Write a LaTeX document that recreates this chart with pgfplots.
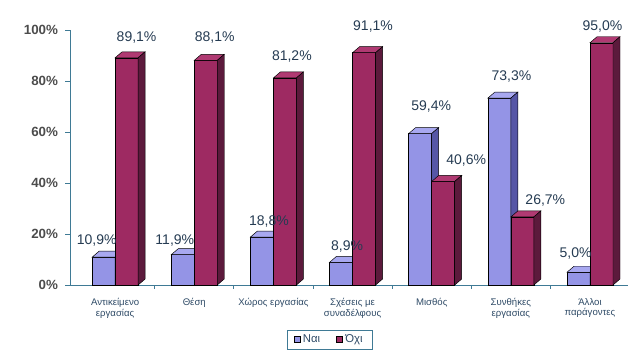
\documentclass[border=0pt]{standalone}
\usepackage{pgfplots}
\pgfplotsset{compat=1.18}
\usepackage{pgfplotstable}
\usepackage{fontspec}
\setmainfont{Liberation Sans}
\definecolor{nai}{HTML}{9494E6}
\definecolor{naitop}{HTML}{A8A8F0}
\definecolor{naiside}{HTML}{5656A6}
\definecolor{oxi}{HTML}{9E2A62}
\definecolor{oxitop}{HTML}{B03A72}
\definecolor{oxiside}{HTML}{5C1A3C}
\definecolor{axcol}{HTML}{3F7A95}
\definecolor{lblcol}{HTML}{2E4A66}
% 3D bar drawn at the data point (category centre, value); uses \val
\newcommand\drawbar[4]{%
  \pgfmathsetmacro\hh{\val*1.9125}%
  \filldraw[fill=#2, draw=black, line width=0.35pt] (#1pt,-\hh pt) rectangle ++(17.25pt,\hh pt);
  \filldraw[fill=#3, draw=black, line width=0.35pt] (#1pt,0pt) -- ++(17.25pt,0pt) -- ++(5.25pt,4.5pt) -- ++(-17.25pt,0pt) -- cycle;
  \filldraw[fill=#4, draw=black, line width=0.35pt] ([xshift=17.25pt]#1pt,0pt) -- ++(5.25pt,4.5pt) -- ++(0pt,-\hh pt) -- ++(-5.25pt,-4.5pt) -- cycle;
}
\pgfdeclareplotmark{naibar}{\drawbar{-17.25}{nai}{naitop}{naiside}}
\pgfdeclareplotmark{oxibar}{\drawbar{0}{oxi}{oxitop}{oxiside}}
\pgfplotstableread{
x nai ndx ndy oxi odx ody
0 10.9 -13.85 12.75 89.1 16.10 15.0
1 11.9 -14.60 10.50 88.1 15.35 17.25
2 18.8 -3.35 12.0 81.2 13.85 15.75
3 8.9 -4.10 12.0 91.1 15.35 20.0
4 59.4 -0.35 20.25 40.6 25.85 15.75
5 73.3 0.40 16.5 26.7 25.85 12.0
6 5.0 -10.85 14.25 95.0 9.35 12.0
}\data
\begin{document}
\begin{tikzpicture}
\begin{axis}[
  scale only axis, width=418.5pt, height=191.25pt,
  xmin=-0.57, xmax=6.48, ymin=0, ymax=100,
  axis lines=left, axis line style={draw=axcol, line width=0.6pt, -},
  ytick={0,20,...,100},
  yticklabel={\pgfmathprintnumber{\tick}\%},
  /pgf/number format/assume math mode=true,
  tick align=outside,
  major tick length=3.5pt,
  minor tick length=3pt,
  ytick style={draw=axcol, line width=0.6pt},
  xtick={0,...,6},
  minor xtick={0.5,1.5,...,6.5},
  major x tick style={draw=none},
  minor x tick style={draw=axcol, line width=0.6pt},
  xticklabels={Αντικείμενο\\εργασίας, Θέση, Χώρος εργασίας, Σχέσεις με\\συναδέλφους, Μισθός, Συνθήκες\\εργασίας, Άλλοι\\παράγοντες},
  xticklabel style={font=\fontsize{7.2}{8}\selectfont, align=center, text=lblcol, yshift=-3pt},
  yticklabel style={font=\fontsize{10}{12}\selectfont\bfseries, text=black!70, xshift=-2pt},
  legend style={at={(0.465,-0.175)}, anchor=north, legend columns=2, draw=axcol, font=\fontsize{8.5}{9}\selectfont, inner xsep=5pt, inner ysep=1.5pt, text=lblcol,
     /tikz/every even column/.append style={column sep=10pt}},
  clip=false,
  point meta=y,
  scatter/@pre marker code/.code={},
  scatter/@post marker code/.code={},
  every node near coord/.append style={font=\fontsize{10.5}{12}\selectfont, text=lblcol!80!black, anchor=center},
]
\addplot[only marks, scatter, mark=naibar,
  visualization depends on={\thisrow{nai} \as \val},
  legend image code/.code={\filldraw[fill=nai, draw=black, line width=0.35pt] (0cm,-0.08cm) rectangle (0.16cm,0.08cm);}]
  table[x=x, y=nai] {\data};
\addplot[only marks, scatter, mark=oxibar,
  visualization depends on={\thisrow{oxi} \as \val},
  legend image code/.code={\filldraw[fill=oxi, draw=black, line width=0.35pt] (0cm,-0.08cm) rectangle (0.16cm,0.08cm);}]
  table[x=x, y=oxi] {\data};
% value labels, drawn on top of all bars
\addplot[draw=none, mark=none, forget plot,
  visualization depends on={\thisrow{ndx} \as \ldx},
  visualization depends on={\thisrow{ndy} \as \ldy},
  nodes near coords={\pgfmathprintnumber[use comma, fixed, fixed zerofill, precision=1]{\pgfplotspointmeta}\%},
  every node near coord/.append style={xshift=\ldx pt, yshift=\ldy pt}]
  table[x=x, y=nai] {\data};
\addplot[draw=none, mark=none, forget plot,
  visualization depends on={\thisrow{odx} \as \ldx},
  visualization depends on={\thisrow{ody} \as \ldy},
  nodes near coords={\pgfmathprintnumber[use comma, fixed, fixed zerofill, precision=1]{\pgfplotspointmeta}\%},
  every node near coord/.append style={xshift=\ldx pt, yshift=\ldy pt}]
  table[x=x, y=oxi] {\data};
\legend{Ναι, Όχι}
\end{axis}
\pgfresetboundingbox
\path ([shift={(-52.5pt,-53.25pt)}]current axis.south west) rectangle ([shift={(429pt,213.75pt)}]current axis.south west);
\end{tikzpicture}
\end{document}
